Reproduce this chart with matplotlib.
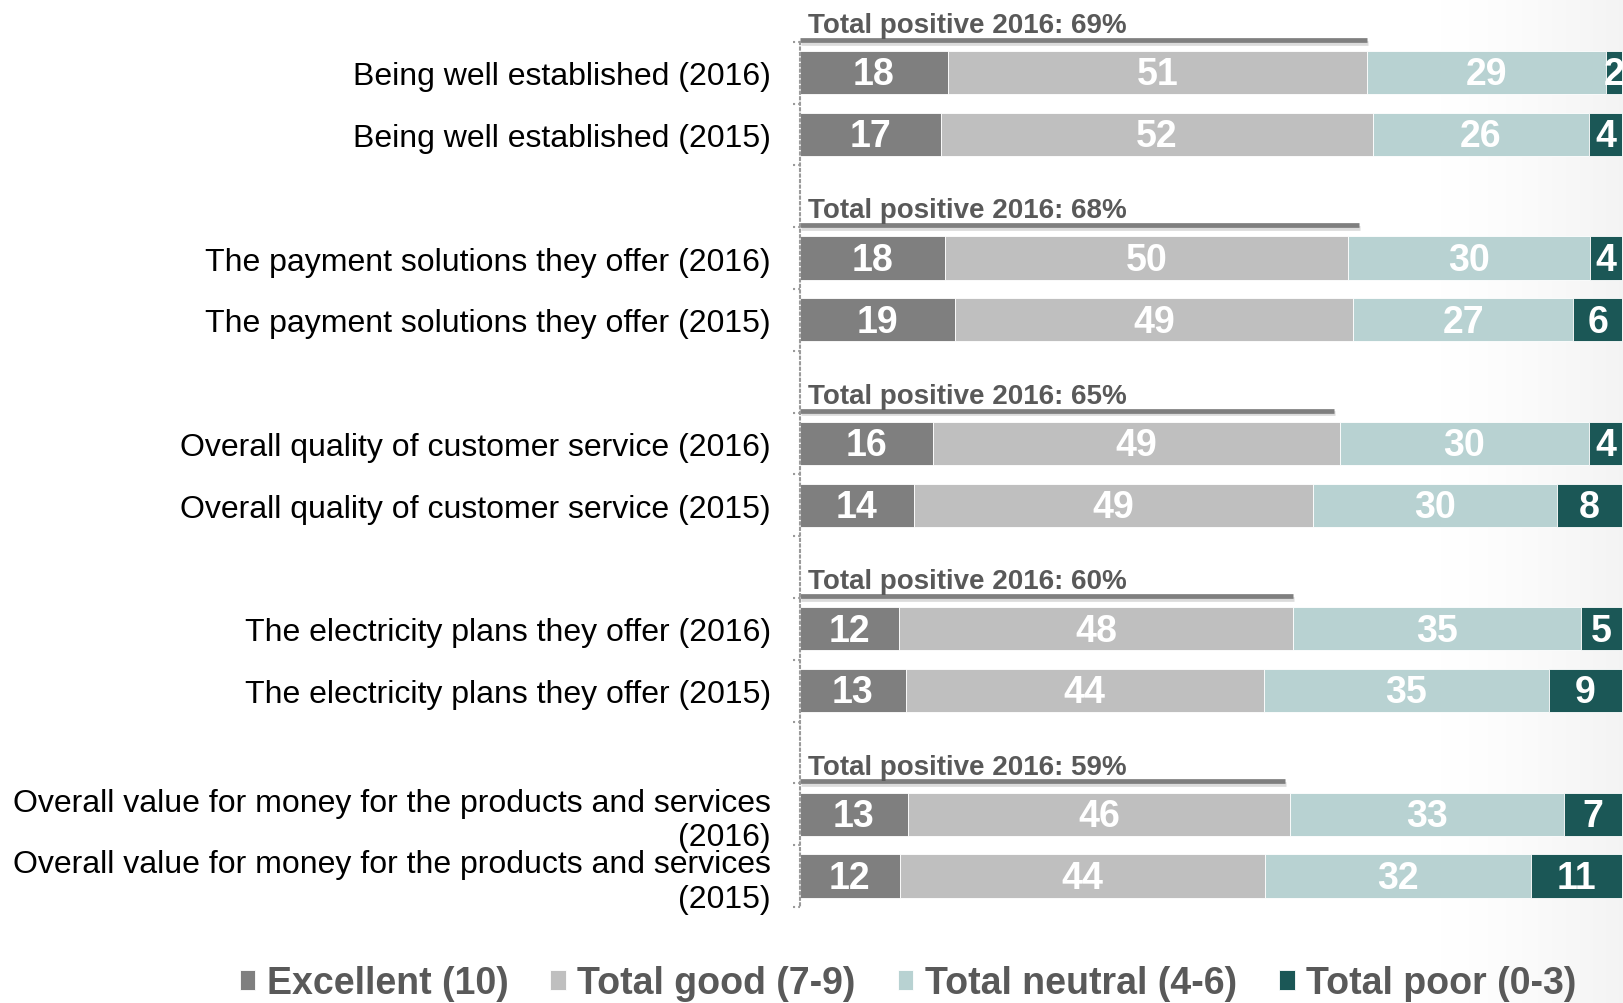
import numpy as np
import matplotlib.pyplot as plt
from matplotlib import patheffects
from matplotlib.transforms import blended_transform_factory

plt.rcParams['font.family'] = ['Liberation Sans', 'DejaVu Sans']

# Survey rows, top to bottom (2016 row first in each pair)
categories = [
    "Being well established (2016)",
    "Being well established (2015)",
    "The payment solutions they offer (2016)",
    "The payment solutions they offer (2015)",
    "Overall quality of customer service (2016)",
    "Overall quality of customer service (2015)",
    "The electricity plans they offer (2016)",
    "The electricity plans they offer (2015)",
    "Overall value for money for the products and services\n(2016)",
    "Overall value for money for the products and services\n(2015)",
]
excellent = [18, 17, 18, 19, 16, 14, 12, 13, 13, 12]
good = [51, 52, 50, 49, 49, 49, 48, 44, 46, 44]
neutral = [29, 26, 30, 27, 30, 30, 35, 35, 33, 32]
poor = [2, 4, 4, 6, 4, 8, 5, 9, 7, 11]

series_names = ["Excellent (10)", "Total good (7-9)",
                "Total neutral (4-6)", "Total poor (0-3)"]
series_colors = ['#7f7f7f', '#bfbfbf', '#b8d2d2', '#1b5756']

W, H = 1624, 1004
fig = plt.figure(figsize=(W / 100, H / 100), dpi=100, facecolor='white')

# faint grey fade on the right-hand edge of the slide
gax = fig.add_axes([0, 0, 1, 1], zorder=-1)
gax.axis('off')
xs = np.arange(W)
shade = 1 - 0.045 * np.clip((xs - 1440) / 184, 0, 1) ** 1.3
img = np.tile(shade, (H, 1))
gax.imshow(np.dstack([img] * 3), aspect='auto', extent=[0, 1, 0, 1])
gax.set_xlim(0, 1)
gax.set_ylim(0, 1)

# slot 0 sits 73.6 px from the top, one slot = 61.8 px
top_px, slot_px = 73.6, 61.8
bottom_px = top_px + 13.5 * slot_px
ax = fig.add_axes([800 / W, 1 - bottom_px / H, 822 / W, bottom_px / H])
ax.set_facecolor('none')

# each topic takes three slots: 2016 row, 2015 row, gap for the annotation
pos = np.array([3 * (i // 2) + i % 2 for i in range(len(categories))])

series = np.array([excellent, good, neutral, poor], dtype=float)
shares = series / series.sum(axis=0) * 100   # 100% stacked rows

left = np.zeros(len(categories))
handles = []
for k in range(4):
    bars = ax.barh(pos, shares[k], left=left, height=0.7,
                   color=series_colors[k], edgecolor='white', linewidth=0.6,
                   label=series_names[k])
    handles.append(bars)
    for i in range(len(categories)):
        ax.text(left[i] + shares[k][i] / 2, pos[i] + 0.03, f"{int(series[k][i])}",
                ha='center', va='center', color='white',
                fontsize=27, fontweight='bold')
    left += shares[k]

# "Total positive" annotation above each topic
for g in range(0, len(categories), 2):
    y = pos[g]
    tp = excellent[g] + good[g]
    ax.plot([0, tp], [y - 0.53, y - 0.53], color='#7f7f7f', lw=3.4,
            solid_capstyle='butt', clip_on=False,
            path_effects=[patheffects.SimpleLineShadow(offset=(0.5, -2.0),
                                                       shadow_color='#9a9a9a',
                                                       alpha=0.35),
                          patheffects.Normal()])
    ax.text(1.0, y - 0.77, f"Total positive 2016: {tp}%", ha='left',
            va='center', color='#595959', fontsize=20, fontweight='bold')

ax.set_xlim(0, 100)
ax.set_ylim(13.5, -top_px / slot_px)
ax.set_xticks([])

ax.set_yticks(pos)
ax.set_yticklabels(categories, fontsize=23, color='black')
for t in ax.get_yticklabels():
    t.set_linespacing(1.2)
ax.tick_params(axis='y', which='major', length=0, pad=21)

# short dotted ticks between category slots
tick_tr = blended_transform_factory(ax.transAxes, ax.transData)
for b in np.arange(-0.5, 14, 1):
    ax.plot([-0.009, 0], [b, b], transform=tick_tr, color='#9a9a9a',
            lw=1.5, ls=(0, (1, 1.5)), clip_on=False)

for side in ['top', 'right', 'bottom']:
    ax.spines[side].set_visible(False)
ax.spines['left'].set_linestyle(':')
ax.spines['left'].set_color('#9a9a9a')
ax.spines['left'].set_linewidth(1.5)
ax.spines['left'].set_bounds(-0.5, 13.5)

fig.legend(handles=handles, labels=series_names, loc='lower center',
           bbox_to_anchor=(0.559, -0.032), ncol=4, frameon=False,
           prop={'weight': 'bold', 'size': 27}, labelcolor='#595959',
           handlelength=0.42, handleheight=0.42, handletextpad=0.3,
           columnspacing=1.12)

fig.savefig('out.png', dpi=100, facecolor='white')
